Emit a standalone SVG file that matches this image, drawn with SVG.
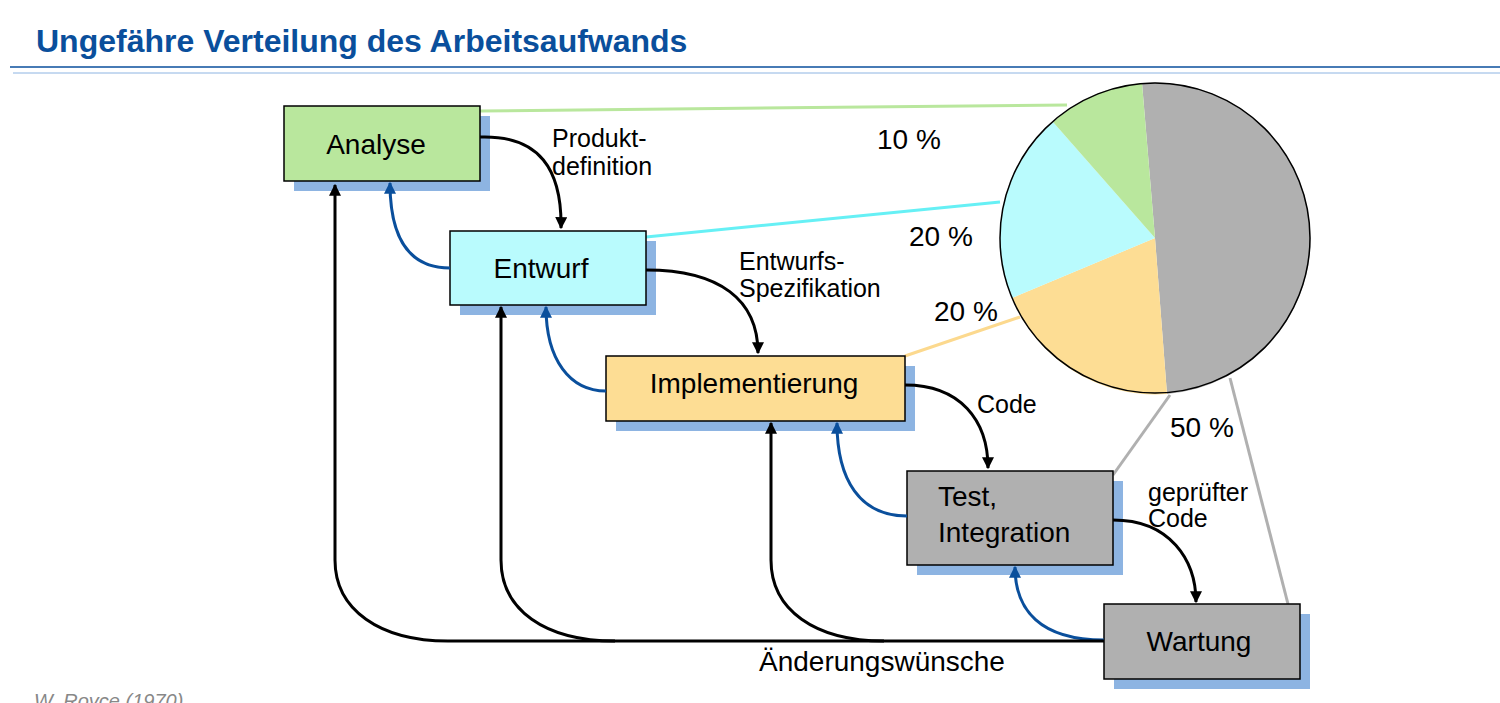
<svg xmlns="http://www.w3.org/2000/svg" width="1500" height="703" viewBox="0 0 1500 703">
<style>
text{font-family:"Liberation Sans",Arial,sans-serif;fill:#000}
.box{stroke:#000;stroke-width:1.5}
.sh{fill:#8db4e2}
.lbl{font-size:28px}
.sm{font-size:25px}
.k{fill:none;stroke:#000;stroke-width:3}
.b{fill:none;stroke:#0a4f9c;stroke-width:3}
</style>
<defs>
<marker id="ak" viewBox="0 0 10 10" refX="9" refY="5" markerWidth="4" markerHeight="4" orient="auto"><path d="M0,0L10,5L0,10z" fill="#000"/></marker>
<marker id="ab" viewBox="0 0 10 10" refX="9" refY="5" markerWidth="4" markerHeight="4" orient="auto"><path d="M0,0L10,5L0,10z" fill="#0a4f9c"/></marker>
</defs>
<rect width="1500" height="703" fill="#fff"/>
<text x="36" y="52" font-size="32" font-weight="bold" style="fill:#0a4f9c">Ungefähre Verteilung des Arbeitsaufwands</text>
<line x1="10" y1="67" x2="1500" y2="67" stroke="#0a4f9c" stroke-width="1.5"/>
<line x1="13" y1="73" x2="1500" y2="73" stroke="#8db4e2" stroke-width="1"/>
<text x="34" y="708" font-size="20" font-style="italic" style="fill:#888">W. Royce (1970)</text>
<g id="links">
<line x1="480" y1="111" x2="1067" y2="105" stroke="#b9e79d" stroke-width="3"/>
<line x1="646" y1="237" x2="1000" y2="202" stroke="#66f0f5" stroke-width="3"/>
<line x1="905" y1="356" x2="1020" y2="317" stroke="#fcd98e" stroke-width="3"/>
<line x1="1113" y1="475" x2="1170" y2="395" stroke="#b0b0b0" stroke-width="3"/>
<line x1="1288" y1="604" x2="1230" y2="378" stroke="#b0b0b0" stroke-width="3"/>
</g>
<g id="pie" stroke="none">
<path d="M1155,238L1142,83A155,155 0 0 1 1167,394Z" fill="#b0b0b0"/>
<path d="M1155,238L1167,394A155,155 0 0 1 1012,298Z" fill="#fddd94"/>
<path d="M1155,238L1012,298A155,155 0 0 1 1053,122Z" fill="#b9fbfd"/>
<path d="M1155,238L1053,122A155,155 0 0 1 1142,83Z" fill="#b9e79d"/>
<circle cx="1155" cy="238" r="155" fill="none" stroke="#000" stroke-width="1.5"/>
</g>
<g id="n-analyse"><rect class="sh" x="294" y="116" width="196" height="75"/><rect class="box" x="284" y="106" width="196" height="75" fill="#b9e79d"/><text class="lbl" x="376" y="154" text-anchor="middle">Analyse</text></g>
<g id="n-entwurf"><rect class="sh" x="460" y="241" width="196" height="74"/><rect class="box" x="450" y="231" width="196" height="74" fill="#b9fbfd"/><text class="lbl" x="541" y="278" text-anchor="middle">Entwurf</text></g>
<g id="n-impl"><rect class="sh" x="616" y="366" width="299" height="65"/><rect class="box" x="606" y="356" width="299" height="65" fill="#fddd94"/><text class="lbl" x="754" y="393" text-anchor="middle">Implementierung</text></g>
<g id="n-test"><rect class="sh" x="917" y="481" width="206" height="94"/><rect class="box" x="907" y="471" width="206" height="94" fill="#b0b0b0"/><text class="lbl" x="938" y="506">Test,</text><text class="lbl" x="938" y="542">Integration</text></g>
<g id="n-wartung"><rect class="sh" x="1114" y="614" width="196" height="75"/><rect class="box" x="1104" y="604" width="196" height="75" fill="#b0b0b0"/><text class="lbl" x="1199" y="651" text-anchor="middle">Wartung</text></g>
<g id="connectors">
<path class="k" marker-end="url(#ak)" d="M480,137C540,135 562,170 561,228"/>
<path class="k" marker-end="url(#ak)" d="M646,270C720,270 758,300 758,353"/>
<path class="k" marker-end="url(#ak)" d="M905,385C960,385 988,420 988,468"/>
<path class="k" marker-end="url(#ak)" d="M1113,520C1170,520 1196,560 1196,602"/>
<path class="b" marker-end="url(#ab)" d="M450,268C410,268 390,240 390,183"/>
<path class="b" marker-end="url(#ab)" d="M606,391C570,391 546,360 546,307"/>
<path class="b" marker-end="url(#ab)" d="M907,516C860,516 837,480 837,423"/>
<path class="b" marker-end="url(#ab)" d="M1104,640C1040,640 1015,610 1015,567"/>
<path class="k" d="M448,641L1104,641"/>
<path class="k" marker-end="url(#ak)" d="M448,641C380,641 335,610 335,560L335,185"/>
<path class="k" marker-end="url(#ak)" d="M615,641C545,641 501,610 501,560L501,307"/>
<path class="k" marker-end="url(#ak)" d="M884,641C815,641 771,610 771,560L771,423"/>
</g>
<g id="labels">
<text class="sm" x="552" y="147">Produkt-</text><text class="sm" x="552" y="175">definition</text>
<text class="sm" x="739" y="270">Entwurfs-</text><text class="sm" x="739" y="297">Spezifikation</text>
<text class="sm" x="977" y="413">Code</text>
<text class="sm" x="1148" y="501">geprüfter</text><text class="sm" x="1148" y="527">Code</text>
<text class="lbl" x="759" y="671">Änderungswünsche</text>
<text class="lbl" x="877" y="149">10 %</text>
<text class="lbl" x="909" y="246">20 %</text>
<text class="lbl" x="934" y="321">20 %</text>
<text class="lbl" x="1170" y="437">50 %</text>
</g>
</svg>
